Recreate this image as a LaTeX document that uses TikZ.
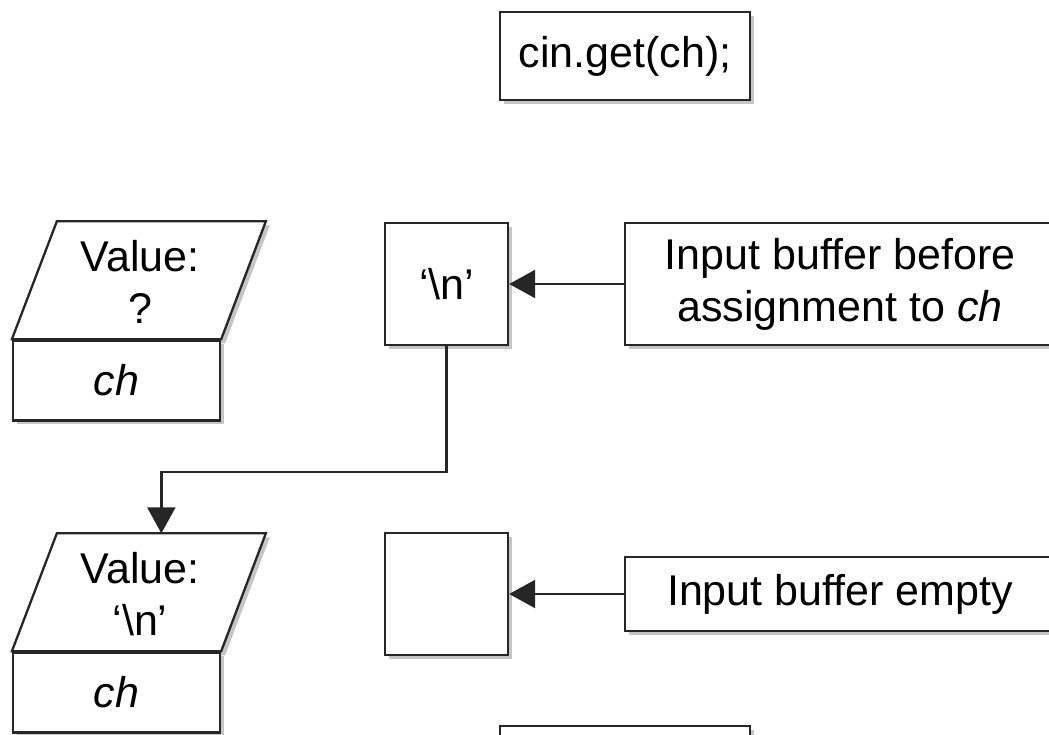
\documentclass[tikz,border=0pt]{standalone}
\usepackage{fontspec}
\setmainfont[Ligatures=NoCommon]{Liberation Sans}
\usetikzlibrary{positioning,shadows,arrows.meta}
\pgfdeclarelayer{background}
\pgfsetlayers{background,main}
\newcommand{\diagfont}{\fontsize{43}{52}\selectfont}

\tikzset{
  box/.style={draw=black!85, line width=2.3pt, fill=white, inner sep=0pt, align=center, font=\diagfont,
    drop shadow={shadow xshift=4pt, shadow yshift=-4pt, fill=black!45}},
  link/.style={draw=black!85, line width=2.3pt, -{Triangle[length=26pt,width=28pt]}},
  valtext/.style={inner sep=0pt, align=center, font=\diagfont}
}

\begin{document}
\begin{tikzpicture}[x=1pt, y=1pt]
\useasboundingbox (0,0) rectangle (1049,735);

\node (cin) [box, minimum width=250pt, minimum height=88pt] at (625,679) {cin.get(ch);};

\node (ch1) [box, minimum width=207pt, minimum height=80pt] at (116.5,354.5) {\textit{ch}};
\node (val1) [valtext, above of=ch1, node distance=98.5pt, xshift=23.5pt] {Value:\\?};
\node (nl1) [box, minimum width=123pt, minimum height=122pt] at (446.5,451) {‘\textbackslash n’};
\node (in1) [box, node distance=393.5pt, right of=nl1, minimum width=430pt, minimum height=122pt] {Input buffer before\\assignment to \textit{ch}};

\node (ch2) [box, node distance=312pt, below of=ch1, minimum width=207pt, minimum height=80pt] {\textit{ch}};
\node (val2) [valtext, above of=ch2, node distance=98.5pt, xshift=23.5pt] {Value:\\‘\textbackslash n’};
\node (nl2) [box, node distance=310pt, below of=nl1, minimum width=123pt, minimum height=122pt] {};
\node (in2) [box, node distance=310pt, below of=in1, minimum width=430pt, minimum height=74pt] {Input buffer empty};

\node (nextstmt) [box, node distance=714pt, below of=cin, minimum width=250pt, minimum height=88pt] {};

\begin{pgfonlayer}{background}
\draw [box] (ch1.north west) -- ++(45,118) -- ++(209,0) -- (ch1.north east) -- cycle;
\draw [box] (ch2.north west) -- ++(45,118) -- ++(209,0) coordinate[midway] (v2top) -- (ch2.north east) -- cycle;
\end{pgfonlayer}

\draw [link] (in1.west) -- (nl1.east);
\draw [link] (in2.west) -- (nl2.east);
\draw [link] (nl1.south) -- ++(0,-126) -| (v2top);

\end{tikzpicture}
\end{document}
